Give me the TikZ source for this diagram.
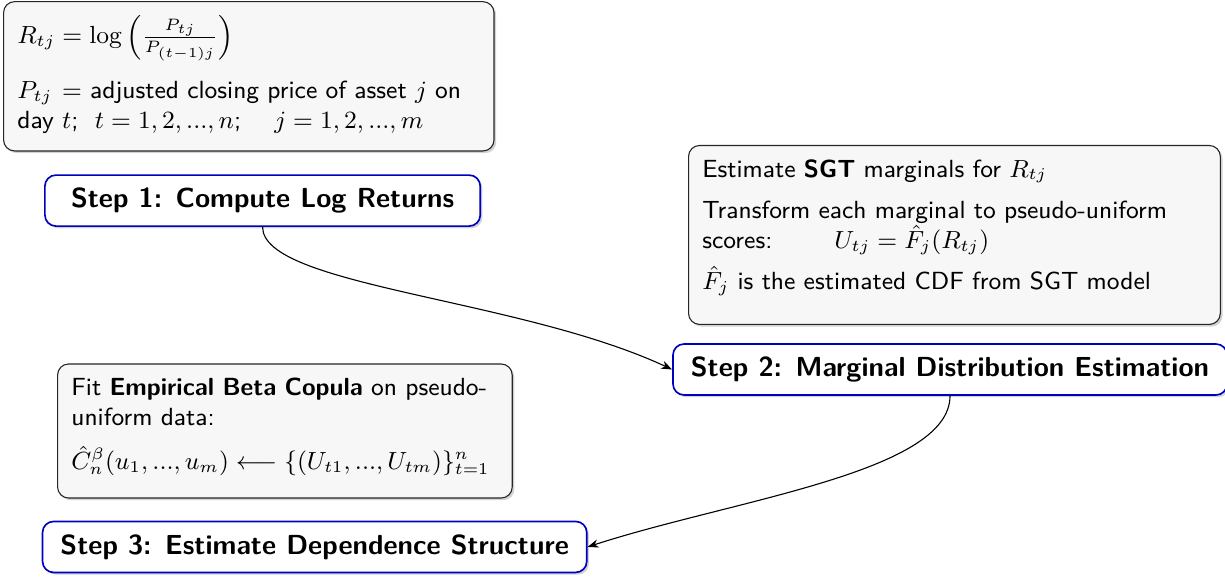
\documentclass[tikz,border=0pt]{standalone}
\usepackage{amsmath}
\usepackage{amssymb}
\usepackage{tikz}
\usetikzlibrary{positioning, shadows, arrows.meta}

% extra room under the last line of a box
\newcommand{\lastgap}[1]{\rule[-#1]{0pt}{#1}}

\begin{document}
\begin{tikzpicture}[x=1pt, y=1pt, font=\sffamily,
        stepnode/.style={draw=blue!75!black, fill=white, semithick, rounded corners=4pt,
                         drop shadow={shadow xshift=0.8pt, shadow yshift=-0.8pt, opacity=0.35},
                         font=\sffamily\bfseries, inner xsep=6.5pt, minimum height=18.5pt},
        infonode/.style={draw=black!85, fill=gray!6, rounded corners=4pt,
                         drop shadow={shadow xshift=0.8pt, shadow yshift=-0.8pt, opacity=0.35},
                         align=left, font=\sffamily\small, inner sep=5pt, anchor=north west},
        flowarrow/.style={-{Stealth[length=4pt, width=3pt]}, thin}]
    \useasboundingbox (0,0) rectangle (444.6,-209.8);

    % information boxes
    \node [infonode, text width=168pt] (logbox) at (1.1,-0.4)
          {$R_{tj} = \log\left(\frac{P_{tj}}{P_{(t-1)j}}\right)$\\[6.5pt]
           $P_{tj} =$ adjusted closing price of asset $j$ on day $t$;~ $t = 1,2,...,n$; \quad $j = 1,2,...,m$\lastgap{3pt}};
    \node [infonode, text width=183pt] (sgtbox) at (249.7,-52.6)
          {Estimate \textbf{SGT} marginals for $R_{tj}$\\[4pt]
           Transform each marginal to pseudo-uniform scores: \qquad $U_{tj} = \hat{F}_j(R_{tj})$\\[4pt]
           $\hat{F}_j$ is the estimated CDF from SGT model\lastgap{7.5pt}};
    \node [infonode, text width=155pt] (copbox) at (20.7,-131.9)
          {Fit \textbf{Empirical Beta Copula} on pseudo-uniform data:\\[5pt]
           $\hat{C}_n^{\beta}(u_1,...,u_m) \longleftarrow \{(U_{t1},...,U_{tm})\}_{t=1}^{n}$\lastgap{5.3pt}};

    % steps
    \node [stepnode, minimum width=158pt] (step1) at (95.3,-72.8) {Step 1: Compute Log Returns};
    \node [stepnode] (step2) at (344.8,-134.1) {Step 2: Marginal Distribution Estimation};
    \node [stepnode] (step3) at (114.2,-198.5) {Step 3: Estimate Dependence Structure};

    % connections
    \draw [flowarrow] (step1.south) to [out=-90, in=155, out looseness=0.35] (step2.west);
    \draw [flowarrow] (step2.south) to [out=-90, in=18, out looseness=0.5] (step3.east);
\end{tikzpicture}
\end{document}
